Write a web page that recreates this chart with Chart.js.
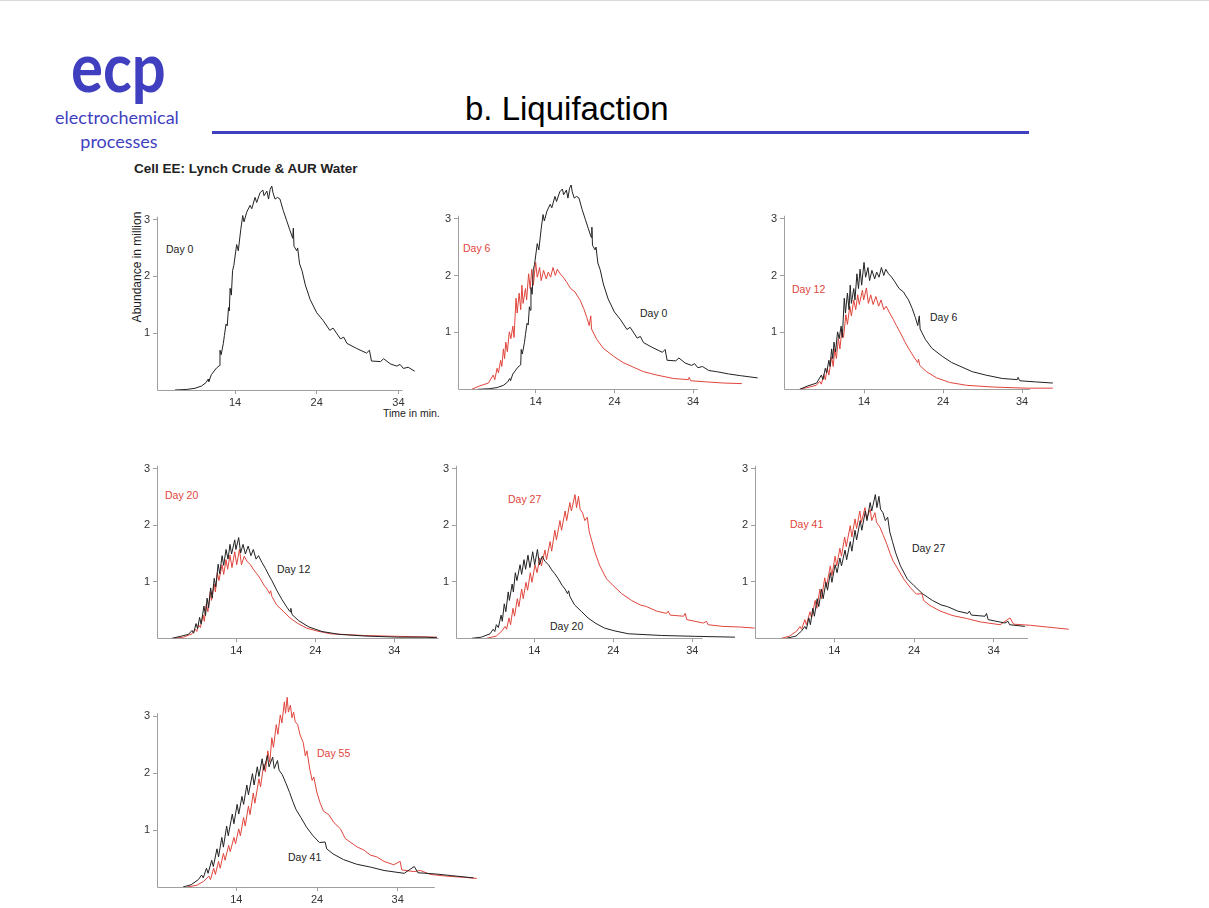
<!DOCTYPE html>
<html><head><meta charset="utf-8">
<script src="https://cdn.jsdelivr.net/npm/chart.js@4/dist/chart.umd.min.js"></script>
<style>
body{margin:0;background:#fff;}
#page{position:relative;width:1209px;height:908px;overflow:hidden;font-family:"Liberation Sans",Arial,sans-serif;border-top:1px solid #d9d9d9;box-sizing:border-box;background:#fff}
.abs{position:absolute;white-space:nowrap;}
.lab{font-size:10.5px;line-height:12px;transform:translateY(-50%);color:#222}
.red{color:#e0453c}
canvas{position:absolute}
</style></head><body><div id="page">
<div class="abs" style="left:71px;top:31px;font-family:Lato,'Open Sans',sans-serif;font-weight:700;font-size:68px;line-height:68px;color:#3f3fbf;transform:scaleX(0.88);transform-origin:left top;">ecp</div>
<div class="abs" style="left:37px;width:160px;text-align:center;top:106px;font-family:Lato,'Open Sans',sans-serif;font-size:18px;line-height:21px;color:#3f3fbf;">electrochemical</div>
<div class="abs" style="left:39px;width:160px;text-align:center;top:130px;font-family:Lato,'Open Sans',sans-serif;font-size:18px;line-height:21px;color:#3f3fbf;">processes</div>
<div class="abs" style="left:465px;top:89px;font-size:33px;line-height:38px;color:#000;">b. Liquifaction</div>
<div class="abs" style="left:212px;top:130px;width:817px;height:3px;background:#3f3fbf;"></div>
<div class="abs" style="left:134px;top:160px;font-size:13.5px;line-height:16px;font-weight:700;color:#222;">Cell EE: Lynch Crude &amp; AUR Water</div>
<div class="abs" style="left:137px;top:266px;font-size:12px;line-height:13px;color:#222;transform:translate(-50%,-50%) rotate(-90deg);">Abundance in million</div>
<div class="abs lab" style="left:383px;top:412px;">Time in min.</div>
<div class="abs lab" style="left:166px;top:248px;">Day 0</div>
<div class="abs lab red" style="left:463px;top:247px;">Day 6</div>
<div class="abs lab" style="left:640px;top:312px;">Day 0</div>
<div class="abs lab red" style="left:792px;top:288px;">Day 12</div>
<div class="abs lab" style="left:930px;top:316px;">Day 6</div>
<div class="abs lab red" style="left:165px;top:494px;">Day 20</div>
<div class="abs lab" style="left:277px;top:568px;">Day 12</div>
<div class="abs lab red" style="left:508px;top:498px;">Day 27</div>
<div class="abs lab" style="left:550px;top:625px;">Day 20</div>
<div class="abs lab red" style="left:790px;top:523px;">Day 41</div>
<div class="abs lab" style="left:912px;top:547px;">Day 27</div>
<div class="abs lab red" style="left:317px;top:752px;">Day 55</div>
<div class="abs lab" style="left:288px;top:856px;">Day 41</div>
</div>
<script>
// ---- data: [time in min, abundance in million] ----
const day0 = [[6.65,0],[8.1,0.01],[9.1,0.03],[9.9,0.07],[10.45,0.13],[10.7,0.19],[10.8,0.15],[11.1,0.27],[11.75,0.39],[12.1,0.43],[12.16,0.70],[12.3,0.62],[12.57,0.82],[12.7,0.96],[12.9,1.16],[13.05,1.13],[13.2,1.45],[13.3,1.39],[13.4,1.79],[13.55,1.67],[13.7,2.10],[13.85,2.19],[14.2,2.56],[14.4,2.45],[14.7,2.82],[14.94,3.07],[15.1,2.96],[15.43,3.13],[15.84,3.25],[16.05,3.19],[16.45,3.39],[16.65,3.30],[17.06,3.47],[17.4,3.52],[17.55,3.42],[17.9,3.50],[18.1,3.36],[18.3,3.53],[18.5,3.59],[18.65,3.47],[18.9,3.36],[19.2,3.39],[19.5,3.36],[19.9,3.16],[20.3,2.99],[20.7,2.82],[21.06,2.67],[21.14,2.85],[21.22,2.53],[21.55,2.45],[21.67,2.50],[21.9,2.22],[22.2,2.10],[22.6,1.85],[23.2,1.59],[24.0,1.36],[24.8,1.22],[25.6,1.05],[26.0,1.09],[26.9,0.90],[27.3,0.93],[27.7,0.82],[28.9,0.73],[30.1,0.65],[30.45,0.70],[30.7,0.51],[31.8,0.50],[32.2,0.55],[33.0,0.46],[33.8,0.42],[34.2,0.45],[34.6,0.38],[35.2,0.40],[36.0,0.33],[37.0,0.31],[38.5,0.27],[40.0,0.24],[42.2,0.20]];
const day6 = [[5.86,0],[6.9,0.06],[8.0,0.11],[8.6,0.25],[8.8,0.17],[9.1,0.37],[9.27,0.29],[9.55,0.51],[9.7,0.40],[9.9,0.71],[10.05,0.54],[10.2,0.83],[10.4,0.66],[10.65,1.01],[10.85,0.89],[11.1,1.11],[11.25,0.91],[11.5,1.60],[11.65,1.34],[11.9,1.69],[12.1,1.40],[12.25,1.83],[12.4,1.51],[12.7,1.77],[12.85,1.57],[13.1,2.03],[13.3,1.77],[13.5,2.11],[13.7,1.83],[14.0,2.23],[14.2,1.97],[14.5,2.14],[14.7,1.91],[15.0,2.09],[15.35,1.94],[15.6,2.06],[15.9,1.97],[16.2,2.14],[16.5,2.0],[16.75,2.11],[17.1,2.03],[17.5,1.97],[17.9,1.89],[18.45,1.77],[19.0,1.71],[19.3,1.64],[19.6,1.58],[20.1,1.42],[20.5,1.26],[20.8,1.12],[21.0,1.29],[21.1,1.06],[21.75,0.88],[22.6,0.72],[23.9,0.58],[25.1,0.47],[26.4,0.39],[27.7,0.31],[29.4,0.25],[31.5,0.19],[33.4,0.17],[33.5,0.21],[33.7,0.15],[35.7,0.13],[37.9,0.11],[40.2,0.10]];
const day12 = [[5.85,0],[7.1,0.04],[7.95,0.07],[8.4,0.14],[8.6,0.09],[8.9,0.26],[9.1,0.17],[9.35,0.37],[9.55,0.25],[9.9,0.57],[10.1,0.40],[10.3,0.71],[10.5,0.54],[10.75,0.89],[10.95,0.71],[11.2,1.06],[11.4,0.91],[11.7,1.31],[11.9,1.14],[12.2,1.46],[12.4,1.29],[12.7,1.57],[12.95,1.40],[13.2,1.66],[13.4,1.49],[13.8,1.74],[13.95,1.57],[14.3,1.78],[14.55,1.51],[14.85,1.66],[15.15,1.49],[15.5,1.63],[15.85,1.46],[16.15,1.57],[16.5,1.40],[16.8,1.46],[17.25,1.34],[17.7,1.23],[18.1,1.12],[18.5,1.02],[19.15,0.84],[19.8,0.68],[20.4,0.55],[20.8,0.47],[20.9,0.53],[21.05,0.42],[21.9,0.31],[23.2,0.20],[24.85,0.12],[27.0,0.07],[30.3,0.04],[34.5,0.02],[37.9,0.02],[39.4,0.01]];
const day20 = [[6.1,0],[7.3,0.02],[8.4,0.08],[8.8,0.16],[9.0,0.12],[9.2,0.24],[9.45,0.19],[9.8,0.41],[9.95,0.30],[10.2,0.61],[10.4,0.47],[10.7,0.82],[10.85,0.67],[11.2,0.96],[11.35,0.82],[11.6,1.16],[11.8,1.02],[12.2,1.30],[12.4,1.13],[12.7,1.39],[12.9,1.22],[13.2,1.47],[13.45,1.25],[13.8,1.53],[14.05,1.30],[14.4,1.57],[14.65,1.30],[15.0,1.45],[15.35,1.36],[15.8,1.30],[16.2,1.21],[16.6,1.14],[17.0,1.06],[17.5,0.94],[17.9,0.87],[18.2,0.79],[18.35,0.84],[18.5,0.74],[19.1,0.59],[20.0,0.47],[20.8,0.36],[21.7,0.27],[22.9,0.18],[24.2,0.13],[25.9,0.08],[30.1,0.05],[34.3,0.035],[39.4,0.02]];
const day27 = [[8.0,0],[9.2,0.04],[9.9,0.13],[10.3,0.21],[10.5,0.16],[10.8,0.36],[11.0,0.24],[11.3,0.53],[11.5,0.39],[11.85,0.70],[12.05,0.56],[12.4,0.87],[12.6,0.70],[12.95,0.99],[13.15,0.85],[13.5,1.16],[13.7,0.99],[14.1,1.30],[14.35,1.16],[14.7,1.42],[14.9,1.28],[15.35,1.56],[15.55,1.39],[16.0,1.71],[16.2,1.54],[16.6,1.91],[16.8,1.74],[17.25,2.08],[17.45,1.91],[17.9,2.25],[18.1,2.08],[18.5,2.40],[18.7,2.25],[19.15,2.54],[19.35,2.31],[19.6,2.51],[19.8,2.28],[20.1,2.22],[20.4,2.08],[20.7,2.14],[20.96,1.88],[21.3,1.71],[21.7,1.51],[22.3,1.28],[23.15,1.05],[24.0,0.93],[25.05,0.79],[26.3,0.67],[27.4,0.59],[28.2,0.56],[29.5,0.48],[30.75,0.44],[30.95,0.48],[31.2,0.41],[32.9,0.39],[33.1,0.44],[33.3,0.33],[35.4,0.27],[35.8,0.30],[36.0,0.24],[37.9,0.21],[40.0,0.20],[41.9,0.18]];
const day41 = [[7.4,0],[8.4,0.04],[9.3,0.13],[9.7,0.21],[9.9,0.16],[10.3,0.33],[10.5,0.24],[10.95,0.47],[11.15,0.36],[11.6,0.67],[11.8,0.53],[12.2,0.87],[12.4,0.70],[12.8,1.07],[13.0,0.90],[13.5,1.28],[13.7,1.11],[14.1,1.45],[14.3,1.28],[14.7,1.59],[14.9,1.45],[15.3,1.79],[15.5,1.62],[16.0,1.99],[16.2,1.79],[16.6,2.11],[16.8,1.94],[17.2,2.25],[17.4,2.05],[17.85,2.31],[18.05,2.11],[18.5,2.28],[18.7,2.08],[19.1,2.22],[19.3,2.05],[19.7,1.97],[20.15,1.82],[20.6,1.66],[21.0,1.50],[21.4,1.36],[22.0,1.22],[22.7,1.05],[23.5,0.90],[24.3,0.78],[25.0,0.79],[25.2,0.67],[26.0,0.58],[27.3,0.48],[28.9,0.40],[30.6,0.35],[32.3,0.29],[34.8,0.24],[36.05,0.36],[36.5,0.25],[38.6,0.23],[40.65,0.20],[43.4,0.16]];
const day55 = [[7.9,0],[9.1,0.03],[9.95,0.10],[10.6,0.19],[10.8,0.13],[11.2,0.33],[11.4,0.22],[11.8,0.45],[12.0,0.33],[12.4,0.59],[12.6,0.47],[13.05,0.73],[13.25,0.62],[13.7,0.87],[13.9,0.76],[14.3,1.02],[14.5,0.90],[14.9,1.22],[15.1,1.07],[15.5,1.42],[15.7,1.27],[16.1,1.65],[16.3,1.47],[16.8,1.90],[17.0,1.76],[17.4,2.16],[17.6,2.02],[17.9,2.39],[18.15,2.19],[18.4,2.62],[18.6,2.45],[18.95,2.85],[19.15,2.68],[19.45,3.02],[19.65,2.88],[19.95,3.25],[20.1,3.05],[20.3,3.33],[20.45,3.07],[20.7,3.19],[20.9,2.97],[21.1,3.07],[21.3,2.90],[21.6,2.85],[21.9,2.67],[22.3,2.53],[22.55,2.30],[22.75,2.39],[23.1,2.07],[23.4,1.87],[23.6,1.93],[24.0,1.65],[24.4,1.47],[24.8,1.33],[25.45,1.27],[26.1,1.13],[26.9,1.02],[27.5,0.85],[28.1,0.79],[29.0,0.70],[29.8,0.65],[30.6,0.56],[31.4,0.53],[32.3,0.45],[33.5,0.39],[34.3,0.45],[34.5,0.30],[36.0,0.27],[36.8,0.29],[38.05,0.22],[40.1,0.19],[42.2,0.17],[43.8,0.15]];
const xTicks = [14, 24, 34];
const yTicks = [1, 2, 3];

const BLACK = '#222222', RED = '#e0453c';
const panels = [
  {L:157,B:389,  ppx:8.17,ppy:58.3,xmin:4.45,xmax:37,  ymax:3.65,axisEnd:34.5,series:[{d:day0,c:BLACK,until:36}]},
  {L:458,B:388.3,ppx:7.87,ppy:58.3,xmin:4.13,xmax:42.5,ymax:3.65,axisEnd:34.6,series:[{d:day0,c:BLACK},{d:day6,c:RED}]},
  {L:784,B:388.3,ppx:7.9, ppy:58.3,xmin:3.87,xmax:40.2,ymax:3.65,axisEnd:35.0,series:[{d:day6,c:BLACK,until:39.8},{d:day12,c:RED,until:37.9}]},
  {L:157,B:637.3,ppx:7.9, ppy:58,  xmin:3.96,xmax:39.7,ymax:3.3, axisEnd:39.6,series:[{d:day12,c:BLACK},{d:day20,c:RED}]},
  {L:456,B:637.3,ppx:7.9, ppy:58,  xmin:4.09,xmax:42.2,ymax:3.3, axisEnd:35.3,series:[{d:day20,c:BLACK},{d:day27,c:RED}]},
  {L:755,B:637.3,ppx:7.97,ppy:58,  xmin:4.05,xmax:43.6,ymax:3.3, axisEnd:38.3,series:[{d:day27,c:BLACK,until:38.4},{d:day41,c:RED}]},
  {L:157,B:886,  ppx:8.07,ppy:58.3,xmin:4.17,xmax:44,  ymax:3.5, axisEnd:38.6,series:[{d:day41,c:BLACK},{d:day55,c:RED}]}
];

const axisLines = {
  id:'axisLines',
  beforeDatasetsDraw(chart, args, opts){
    const {ctx} = chart; const x = chart.scales.x, y = chart.scales.y;
    ctx.save(); ctx.strokeStyle = '#a0a0a0'; ctx.lineWidth = 1;
    const y0 = Math.round(y.getPixelForValue(0)) + 0.5;
    const x0 = Math.round(x.getPixelForValue(x.min)) + 0.5;
    ctx.beginPath();
    ctx.moveTo(x0, y0); ctx.lineTo(x.getPixelForValue(opts.end), y0);
    ctx.moveTo(x0, y0); ctx.lineTo(x0, y.getPixelForValue(opts.top));
    ctx.stroke(); ctx.restore();
  }
};

const page = document.getElementById('page');
const YW = 40, XH = 26, PT = 4, PR = 4;
panels.forEach(p => {
  const plotW = (p.xmax - p.xmin) * p.ppx, plotH = p.ymax * p.ppy;
  const cLeft = p.L - YW;
  const cTop = Math.floor(p.B - plotH - PT);
  const cW = Math.ceil(YW + plotW + PR);
  const padR = cW - YW - plotW;
  const padT = (p.B - plotH) - cTop;
  const cH = Math.ceil(p.B - cTop + XH);
  const xH = cH - (p.B - cTop);
  const cv = document.createElement('canvas');
  cv.width = cW; cv.height = cH;
  cv.style.left = cLeft + 'px'; cv.style.top = cTop + 'px';
  cv.style.width = cW + 'px'; cv.style.height = cH + 'px';
  page.appendChild(cv);
  new Chart(cv, {
    type: 'line',
    data: { datasets: p.series.map(s => ({
      data: s.d.filter(pt => s.until === undefined || pt[0] <= s.until).map(pt => ({x: pt[0], y: pt[1]})),
      borderColor: s.c, borderWidth: 1, pointRadius: 0, tension: 0, fill: false
    })) },
    options: {
      responsive: false, animation: false, devicePixelRatio: 1,
      layout: { padding: { left: 0, top: padT, right: padR, bottom: 0 } },
      plugins: { legend: {display:false}, tooltip: {enabled:false}, axisLines: { end: p.axisEnd, top: 3.05 } },
      scales: {
        x: { type: 'linear', min: p.xmin, max: p.xmax,
             afterFit: s => { s.height = xH; },
             afterBuildTicks: s => { s.ticks = xTicks.map(v => ({value: v})); },
             grid: { display: true, drawOnChartArea: false, drawTicks: true, tickLength: 4, color: '#a0a0a0' },
             border: { display: false },
             ticks: { autoSkip: false, maxRotation: 0, padding: 2, color: '#333', font: { family: 'Liberation Sans', size: 11 } } },
        y: { type: 'linear', min: 0, max: p.ymax,
             afterFit: s => { s.width = YW; },
             afterBuildTicks: s => { s.ticks = yTicks.map(v => ({value: v})); },
             grid: { display: true, drawOnChartArea: false, drawTicks: true, tickLength: 4, color: '#a0a0a0' },
             border: { display: false },
             ticks: { autoSkip: false, padding: 3, color: '#333', font: { family: 'Liberation Sans', size: 11 } } }
      }
    },
    plugins: [axisLines]
  });
});
</script>
</body></html>
